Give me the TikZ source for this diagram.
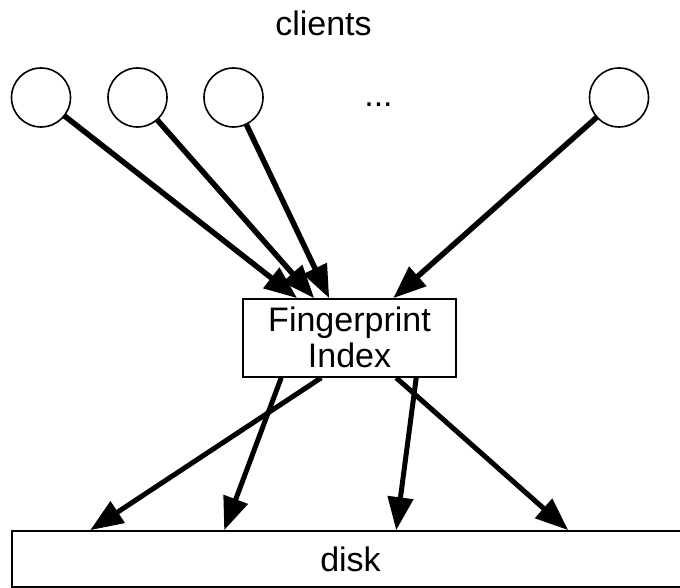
\documentclass[tikz,border=0pt]{standalone}
\usepackage{fontspec}
\setmainfont{Liberation Sans}
\usetikzlibrary{arrows.meta}
\tikzset{
  client/.style={circle, draw, line width=1.6pt, minimum size=59pt, inner sep=0pt},
  boxnode/.style={draw, line width=1.6pt, inner sep=0pt, align=center},
  label/.style={font=\fontsize{34}{36}\selectfont, inner sep=0pt},
  arr/.style={line width=5.5pt, -{Triangle[length=33pt 0 0,width=25pt 0 0]}, shorten <=-1pt},
  darr/.style={line width=5pt, -{Triangle[length=33pt 0 0,width=25pt 0 0]}},
}
\begin{document}
\begin{tikzpicture}[x=1pt, y=1pt]
  \useasboundingbox (0,0) rectangle (680,588);
  \fill[white] (0,0) rectangle (680,588);

  % clients
  \node[client] (c1) at (41,490.5) {};
  \node[client] (c2) at (137.5,490.5) {};
  \node[client] (c3) at (233.5,490.5) {};
  \node[client] (c4) at (619,490.5) {};
  \node[label, anchor=base] (title) at (323.5,552) {clients};
  \node[label, anchor=base] (dots) at (378.5,481) {...};

  % index box
  \node[boxnode, minimum width=213pt, minimum height=78pt] (fp) at (349.5,250) {};
  \node[label, anchor=base] (fpa) at (349.5,256) {Fingerprint};
  \node[label, anchor=base] (fpb) at (349.5,220) {Index};

  % disk
  \node[boxnode, minimum width=669pt, minimum height=56pt] (disk) at (346.5,29) {};
  \node[label, anchor=base] (dl) at (350.5,16) {disk};

  % client requests
  \draw[arr] (c1) -- ([xshift=55pt]fp.north west);
  \draw[arr] (c2) -- ([xshift=72pt]fp.north west);
  \draw[arr] (c3) -- ([xshift=87pt]fp.north west);
  \draw[arr] (c4) -- ([xshift=151pt]fp.north west);

  % index lookups to disk
  \draw[darr] ([xshift=79pt]fp.south west) -- ([xshift=79pt]disk.north west);
  \draw[darr] ([xshift=39pt]fp.south west) -- ([xshift=213pt]disk.north west);
  \draw[darr] ([xshift=174pt]fp.south west) -- ([xshift=385pt]disk.north west);
  \draw[darr] ([xshift=154pt]fp.south west) -- ([xshift=557pt]disk.north west);
\end{tikzpicture}
\end{document}
